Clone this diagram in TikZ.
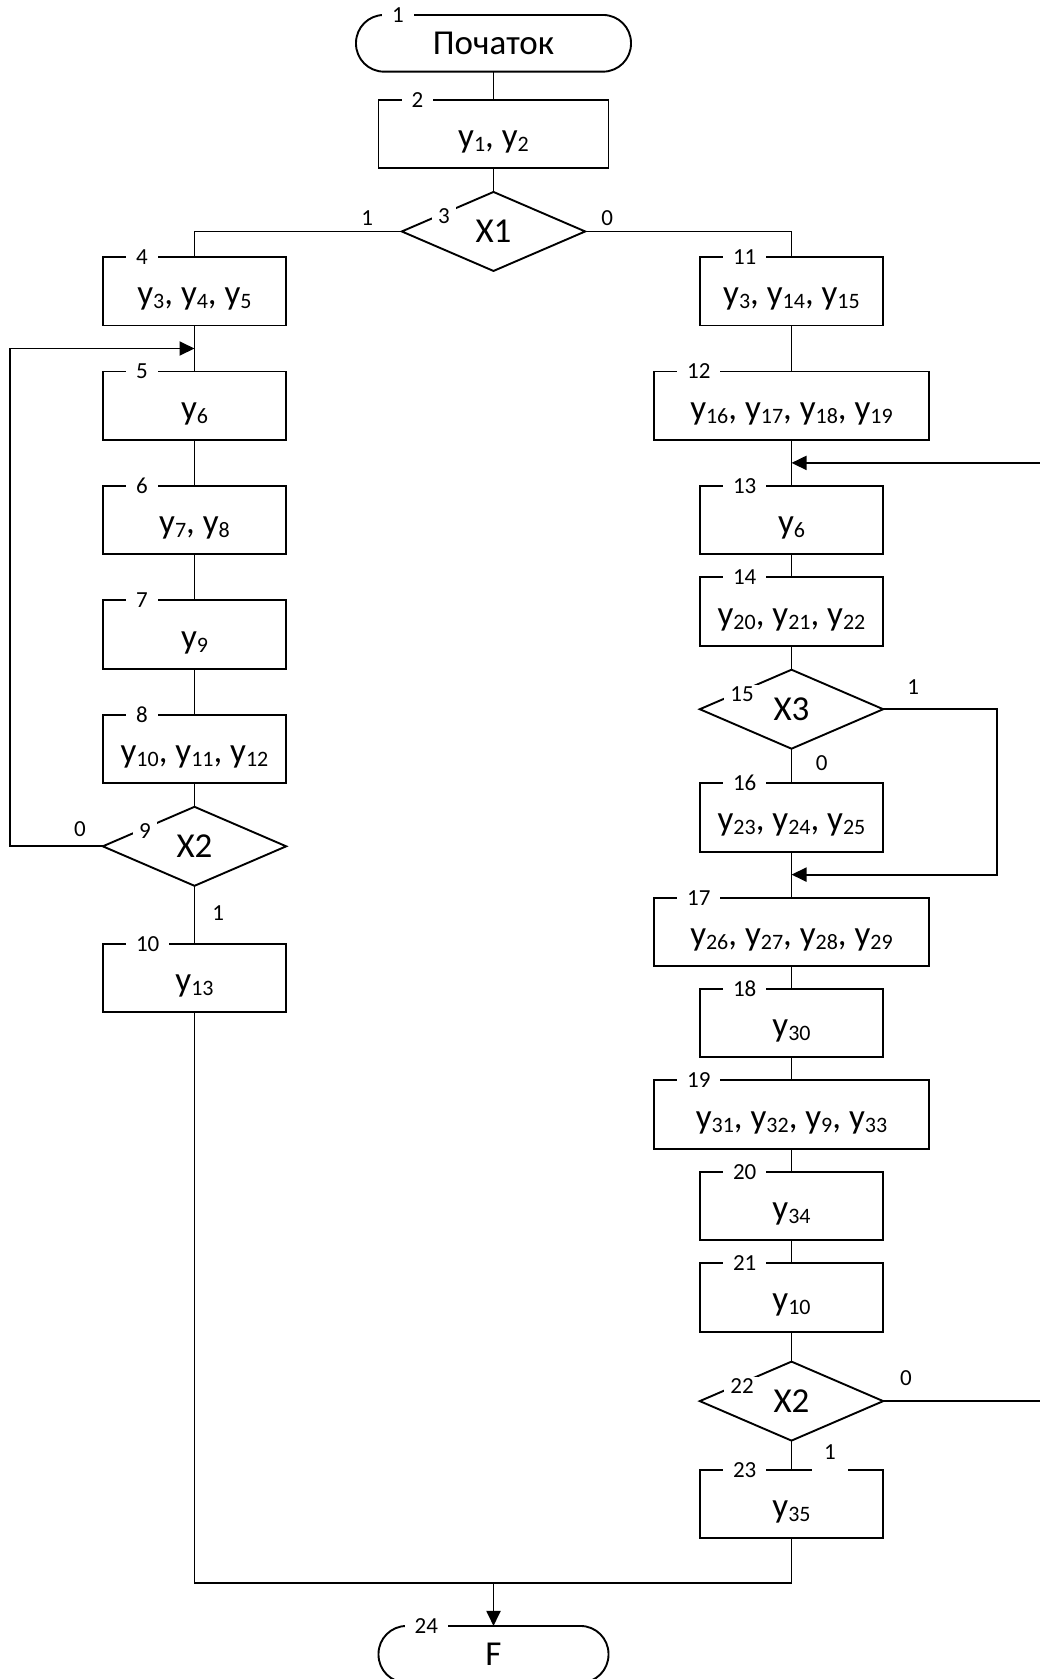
\documentclass[tikz,border=0pt]{standalone}
\usepackage{fontspec}
\setmainfont{Carlito}
\usepackage{tikz}
\usetikzlibrary{shapes.geometric,arrows.meta,positioning,calc}

\newcommand{\mainsize}{\fontsize{35}{40}\selectfont}
\newcommand{\subsize}{\fontsize{22}{24}\selectfont}
\newcommand{\tagsize}{\fontsize{23}{25}\selectfont}
\newcommand{\ysub}[1]{y\raisebox{-4pt}{\subsize #1}}

\begin{document}
\begin{tikzpicture}[
  x=1pt, y=-1pt,
  node distance=46pt,
  term/.style={
    rectangle, rounded corners=28pt, draw, line width=1.9pt, outer sep=0pt,
    minimum width=275pt, minimum height=56.7pt, inner sep=0pt,
    text height=23pt, text depth=0pt, font=\mainsize
  },
  box/.style={
    rectangle, draw, line width=1.9pt, outer sep=0pt,
    minimum width=183.4pt, minimum height=68.4pt, inner sep=0pt,
    text height=27pt, text depth=0pt, font=\mainsize
  },
  wide/.style={box, minimum width=275.2pt},
  cond/.style={
    diamond, draw, line width=1.9pt, outer sep=0pt,
    minimum width=183.4pt, minimum height=79pt, inner sep=0pt,
    text height=22pt, text depth=0pt, font=\mainsize
  },
  tag/.style={anchor=west, fill=white, inner xsep=10pt, inner ysep=2pt, font=\tagsize},
  lbl/.style={inner sep=1pt, font=\tagsize},
  wire/.style={line width=1.9pt},
  arr/.style={-{Triangle[length=15pt,width=14pt]}, line width=1.9pt}
]
\useasboundingbox (0,0) rectangle (1040,1679);
\clip (0,0) rectangle (1040,1679);

% start
\node[term] (b1) at (493.5,43.3) {Початок};
\node[box, minimum width=230pt, below=28.3pt of b1] (b2) {\ysub{1}, \ysub{2}};
\node[cond, below=23.6pt of b2] (b3) {X1};

% left branch
\node[box] (b4) at (194.5,291.3) {\ysub{3}, \ysub{4}, \ysub{5}};
\node[box, below=of b4] (b5) {\ysub{6}};
\node[box, below=of b5] (b6) {\ysub{7}, \ysub{8}};
\node[box, below=of b6] (b7) {\ysub{9}};
\node[box, below=of b7] (b8) {\ysub{10}, \ysub{11}, \ysub{12}};
\node[cond, below=23.7pt of b8] (b9) {X2};
\node[box, below=58pt of b9] (b10) {\ysub{13}};

% right branch
\node[box] (b11) at (791.5,291.3) {\ysub{3}, \ysub{14}, \ysub{15}};
\node[wide, below=of b11] (b12) {\ysub{16}, \ysub{17}, \ysub{18}, \ysub{19}};
\node[box, below=of b12] (b13) {\ysub{6}};
\node[box, below=23pt of b13] (b14) {\ysub{20}, \ysub{21}, \ysub{22}};
\node[cond, below=24pt of b14] (b15) {X3};
\node[box, below=34.5pt of b15] (b16) {\ysub{23}, \ysub{24}, \ysub{25}};
\node[wide, below=of b16] (b17) {\ysub{26}, \ysub{27}, \ysub{28}, \ysub{29}};
\node[box, below=23pt of b17] (b18) {\ysub{30}};
\node[wide, below=23pt of b18] (b19) {\ysub{31}, \ysub{32}, \ysub{9}, \ysub{33}};
\node[box, below=23pt of b19] (b20) {\ysub{34}};
\node[box, below=23pt of b20] (b21) {\ysub{10}};
\node[cond, below=30pt of b21] (b22) {X2};
\node[box, below=29pt of b22] (b23) {\ysub{35}};

% end
\node[term, minimum width=230pt] (b24) at (493.5,1654.3) {F};

% block numbers on the top edges
\foreach \n in {2,4,5,6,7,8,10,11,12,13,14,16,17,18,19,20,21,23}
  \node[tag] at ($(b\n.north west)+(23,0)$) {\n};
\foreach \n in {1,24}
  \node[tag] at ($(b\n.north west)+(26,0)$) {\n};
\foreach \n in {3,9,15,22}
  \node[tag, anchor=center, inner xsep=6pt] at ($(b\n)+(-49.5,-15)$) {\n};

% joints and free ends
\coordinate (j5) at ($(b4.south)!0.5!(b5.north)$);
\coordinate (j13) at ($(b12.south)!0.5!(b13.north)$);
\coordinate (j17) at ($(b16.south)!0.5!(b17.north)$);
\coordinate (jb) at ($(b24.north)+(0,-43)$);
\coordinate (lx) at (10,0);
\coordinate (rx) at (997.3,0);
\coordinate (edge) at (1040,0);

\foreach \a/\b in {b1/b2, b2/b3, b4/b5, b5/b6, b6/b7, b7/b8, b8/b9, b9/b10,
                   b11/b12, b12/b13, b13/b14, b14/b15, b15/b16, b16/b17,
                   b17/b18, b18/b19, b19/b20, b20/b21, b21/b22, b22/b23}
  \draw[wire] (\a) -- (\b);

\draw[wire] (b3.west) -| (b4.north);
\draw[wire] (b3.east) -| (b11.north);
\draw[arr] (b9.west) -| (lx |- j5) -- (j5);
\draw[arr] (edge |- j13) -- (j13);
\draw[arr] (b15.east) -| (rx |- j17) -- (j17);
\draw[wire] (b22.east) -- (edge |- b22.east);
\draw[wire] (b10.south) |- (jb) -| (b23.south);
\draw[arr] (jb) -- (b24.north);

% branch values
\node[lbl] at ($(b3.west)+(-34.7,-13)$) {1};
\node[lbl] at ($(b3.east)+(22,-13)$) {0};
\node[lbl] at ($(b9.west)+(-22.8,-16.7)$) {0};
\node[lbl] at ($(b9.south)+(23.8,27.2)$) {1};
\node[lbl] at ($(b15.east)+(30,-22.3)$) {1};
\node[lbl] at ($(b15.south)+(30.2,14.2)$) {0};
\node[lbl] at ($(b22.east)+(22.8,-22.7)$) {0};
\node[lbl, fill=white, inner xsep=12pt, text depth=12pt, anchor=base] at ($(b22.south)+(38.5,19.1)$) {1};

\end{tikzpicture}
\end{document}
